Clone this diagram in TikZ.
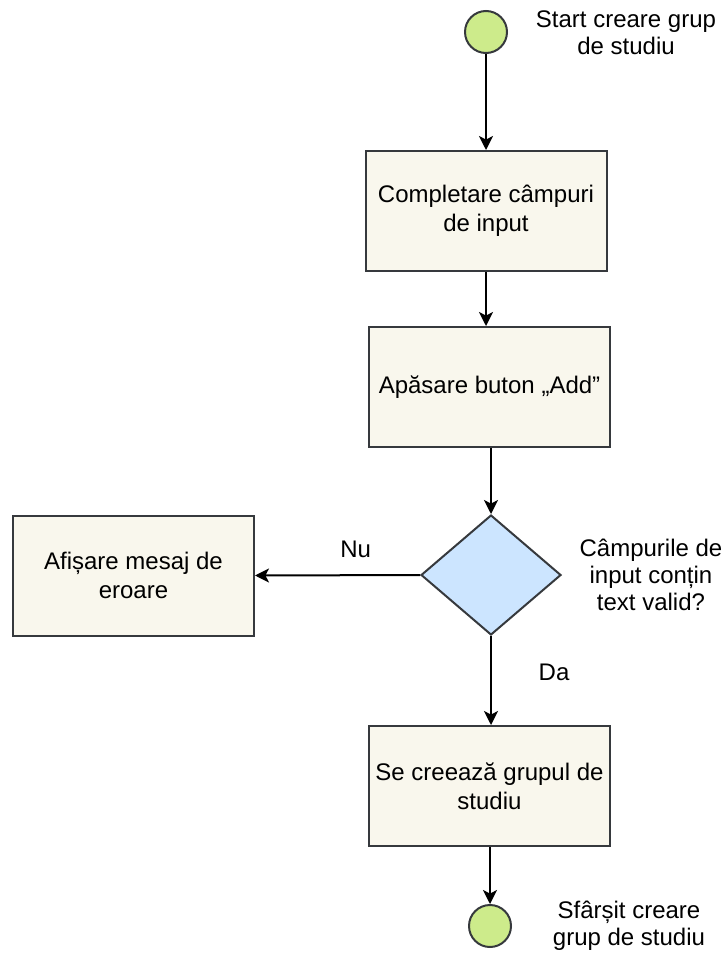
\documentclass[tikz,border=0pt]{standalone}
\usepackage{fontspec}
\setmainfont{Liberation Sans}
\usetikzlibrary{shapes.geometric,arrows.meta}
\definecolor{boxfill}{HTML}{F9F7ED}
\definecolor{edgecol}{HTML}{36393D}
\definecolor{decfill}{HTML}{CCE5FF}
\definecolor{termfill}{HTML}{CDEB8B}
\tikzset{
  stepbox/.style={draw=edgecol, fill=boxfill, line width=1pt, rectangle,
    minimum width=120.5pt, minimum height=60pt, inner sep=0pt,
    align=center, font=\fontsize{12}{14.4}\selectfont},
  decision/.style={draw=edgecol, fill=decfill, line width=1pt, diamond,
    minimum width=70pt, minimum height=60pt, inner sep=0pt},
  terminal/.style={draw=edgecol, fill=termfill, line width=1pt, circle,
    minimum size=21pt, inner sep=0pt},
  note/.style={align=center, inner sep=0pt, font=\fontsize{12}{13.5}\selectfont},
  flow/.style={draw=black, line width=1pt,
    -{Stealth[length=7pt, width=7pt, inset=1.8pt]}}
}
\begin{document}
\begin{tikzpicture}[x=0.5pt, y=-0.5pt]
  \useasboundingbox (0,0) rectangle (724,953);

  % start and end terminals
  \node[terminal] (start) at (486,32) {};
  \node[note] (startlbl) at (626,33) {Start creare grup\\de studiu};

  % process steps
  \node[stepbox] (fill) at (486,211) {Completare câmpuri\\de input};
  \node[stepbox] (press) at (489.5,387) {Apăsare buton „Add”};
  \node[decision] (check) at (491,575) {};
  \node[note] (checklbl) at (651,575) {Câmpurile de\\input conțin\\text valid?};
  \node[stepbox] (error) at (133.5,575.5) {Afișare mesaj de\\eroare};
  \node[stepbox] (create) at (489.5,786) {Se creează grupul de\\studiu};

  \node[terminal] (stop) at (490,926) {};
  \node[note] (stoplbl) at (629,926) {Sfârșit creare\\grup de studiu};

  % connectors
  \draw[flow] (start) -- (fill);
  \draw[flow] (fill.south) -- (fill.south |- press.north);
  \draw[flow] (press.south -| check.north) -- (check.north);
  \draw[flow] (check.west) -- (error.east)
    node[pos=0.39, above=5pt, font=\fontsize{12}{14.4}\selectfont] (nolbl) {Nu};
  \draw[flow] (check.south) -- (check.south |- create.north)
    node[pos=0.41, right=20pt, font=\fontsize{12}{14.4}\selectfont] (yeslbl) {Da};
  \draw[flow] (create.south -| stop.north) -- (stop.north);
\end{tikzpicture}
\end{document}
